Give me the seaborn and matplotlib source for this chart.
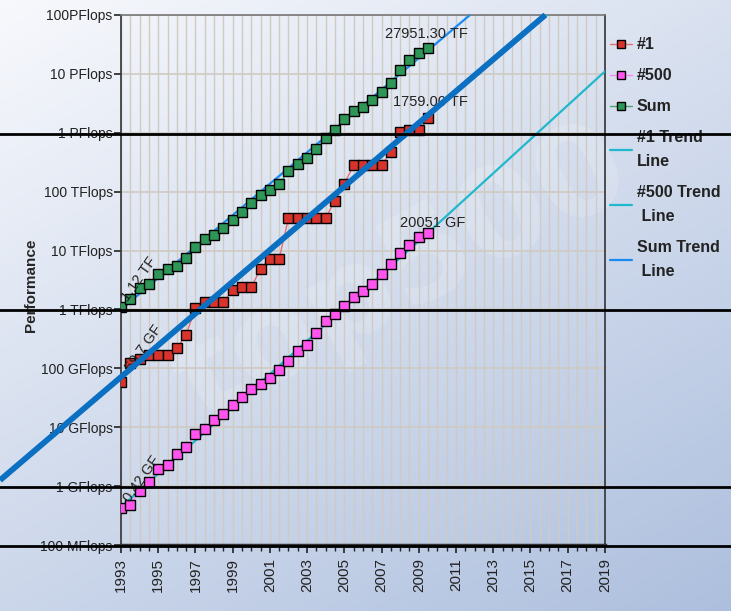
"""
TOP500 performance development, 1993-2009, with trend lines to 2019.
"""
import matplotlib
matplotlib.use("Agg")
import matplotlib.pyplot as plt
import numpy as np
import pandas as pd
import seaborn as sns
from matplotlib.ticker import FixedLocator, MultipleLocator

# values in GFlops, one per list (June / November), 1993 .. 2009
rank1 = [59.7, 124, 143.4, 170, 170, 170, 220.4, 368.2, 1068, 1338, 1338, 1338,
         2121, 2379, 2379, 4938, 7226, 7226, 35860, 35860, 35860, 35860, 35860,
         70720, 136800, 280600, 280600, 280600, 280600, 478200, 1026000,
         1105000, 1105000, 1759000]
rank500 = [0.42, 0.47, 0.84, 1.17, 1.96, 2.3, 3.5, 4.6, 7.7, 9.5, 13.4, 17.1,
           24.2, 33.1, 43.8, 55.1, 67.8, 94.3, 134.3, 195.8, 245.1, 403.4, 624,
           850.6, 1166, 1646, 2026, 2737, 4005, 5929, 9000, 12640, 17090, 20051]
total = [1120, 1500, 2300, 2700, 4000, 4900, 5400, 7400, 11700, 15500, 18600,
         24300, 33500, 45000, 63600, 88800, 108600, 134300, 222300, 294000,
         375000, 528000, 813000, 1127000, 1690000, 2300000, 2790000, 3530000,
         4920000, 6970000, 11700000, 16950000, 22600000, 27951300]
years = [1993 + 0.5 * i for i in range(len(rank1))]

# trend line end points (year, GFlops)
trend1_years = [1993, 2015.9]
trend1_vals = [70, 1e8]
trend500_years = [2009.5, 2019]
trend500_vals = [20051, 1.1e7]
trendsum_years = [1993, 2011.75]
trendsum_vals = [1000, 1e8]
# thick highlight drawn over the #1 trend, running off the left edge
thick_years = [1986.5, 2015.8]
thick_vals = [1.26, 1e8]
# horizontal marker lines across the picture (GFlops)
hlines = [1e6 * 0.95, 1e3 * 0.98, 0.98, 0.098]

ytick_vals = [1e-1, 1, 10, 100, 1e3, 1e4, 1e5, 1e6, 1e7, 1e8]
ytick_labels = ["100 MFlops", "1 GFlops", "10 GFlops", "100 GFlops", "1 TFlops",
                "10 TFlops", "100 TFlops", "1 PFlops", "10 PFlops", "100PFlops"]
xtick_years = list(range(1993, 2020, 2))

sns.set_theme(style="white")
plt.rcParams["font.family"] = ["Liberation Sans", "DejaVu Sans"]

fig = plt.figure(figsize=(7.31, 6.11), dpi=100)

# background gradient
bg = fig.add_axes([0, 0, 1, 1], zorder=-10)
gx, gy = np.meshgrid(np.linspace(0, 1, 200), np.linspace(0, 1, 200))
shade = np.clip(0.6 * gy + 0.4 * gx, 0, 1)
c0 = np.array([0.97, 0.975, 0.99])
c1 = np.array([0.68, 0.75, 0.87])
img = c0[None, None, :] * (1 - shade[..., None]) + c1[None, None, :] * shade[..., None]
bg.imshow(img, aspect="auto", extent=[0, 1, 0, 1], origin="upper")
bg.text(0.55, 0.55, "top500", fontsize=90, fontweight="bold", color="white",
        alpha=0.16, rotation=28, ha="center", va="center", family="DejaVu Sans")
bg.set_axis_off()

ax = fig.add_axes([0.1655, 0.108, 0.662, 0.8675])
ax.set_facecolor("none")
ax.set_yscale("log")
ax.set_xlim(1993, 2019)
ax.set_ylim(0.1, 1e8)

df = pd.DataFrame({"year": years, "#1": rank1, "#500": rank500, "Sum": total})

series = [("#1", "#d8342c", "#e87070"), ("#500", "#ff55ee", "#ff88f0"),
          ("Sum", "#2e9656", "#4aa870")]

# trend lines
sns.lineplot(x=trend1_years, y=trend1_vals, ax=ax, color="#20b8cc", lw=1.6,
             label="#1 Trend\nLine", zorder=3)
sns.lineplot(x=trend500_years, y=trend500_vals, ax=ax, color="#20b8cc", lw=1.6,
             label="#500 Trend\n Line", zorder=3)
sns.lineplot(x=trendsum_years, y=trendsum_vals, ax=ax, color="#1a8cf0", lw=1.6,
             label="Sum Trend\n Line", zorder=3)
sns.lineplot(x=[years[0], years[-1]], y=[rank500[0] * 1.05, rank500[-1]], ax=ax,
             color="#20b8cc", lw=1.6, zorder=3)

for name, fc, lc in series:
    sns.lineplot(data=df, x="year", y=name, ax=ax, color=lc, lw=1.0, marker="s",
                 markersize=7, markerfacecolor=fc, markeredgecolor="black",
                 markeredgewidth=1.0, label=name, zorder=4)

# annotations at the ends of the measured series
ann = dict(fontsize=10.5, color="#222222", zorder=5)
ax.text(2007.2, total[-1] * 1.45, "27951.30 TF", **ann)
ax.text(2007.6, rank1[-1] * 1.6, "1759.00 TF", **ann)
ax.text(2008.0, rank500[-1] * 1.25, "20051 GF", **ann)
ax.text(1992.9, total[0] * 1.25, "1.12 TF", rotation=55, **ann)
ax.text(1993.1, rank1[0] * 1.5, "59.7 GF", rotation=55, **ann)
ax.text(1993.0, rank500[0] * 1.3, "0.42 GF", rotation=55, **ann)

# overlays
ax.plot(thick_years, thick_vals, color="#0b6fc2", lw=4.2, clip_on=False,
        solid_capstyle="butt", zorder=6)
for v in hlines:
    ax.axhline(v, xmin=-0.26, xmax=1.27, color="black", lw=2.0, clip_on=False,
               zorder=7)

ax.yaxis.set_major_locator(FixedLocator(ytick_vals))
ax.yaxis.set_minor_locator(FixedLocator([]))
ax.set_yticks(ytick_vals, ytick_labels)
ax.set_xticks(xtick_years, [str(y) for y in xtick_years])
ax.xaxis.set_minor_locator(MultipleLocator(0.5))
ax.tick_params(axis="x", which="major", rotation=90, length=6, width=1.2,
               labelsize=11, direction="out", bottom=True, colors="#222222")
ax.tick_params(axis="x", which="minor", length=4, width=1.0, direction="out",
               bottom=True, color="#222222")
ax.tick_params(axis="y", which="major", length=5, width=1.2, labelsize=10,
               direction="out", left=True, pad=1, colors="#222222")

ax.grid(True, which="major", axis="y", color="#cfcac2", lw=1.2)
ax.grid(True, which="both", axis="x", color="#cfcac2", lw=1.0)
ax.set_axisbelow(True)

for side in ["left", "right", "bottom"]:
    ax.spines[side].set_color("#333333")
    ax.spines[side].set_linewidth(1.2)
ax.spines["top"].set_color("#777777")
ax.spines["top"].set_linewidth(1.2)
ax.spines["bottom"].set_linewidth(2.5)

ax.set_xlabel("")
ax.set_ylabel("Performance", fontsize=11, fontweight="bold")
ax.yaxis.set_label_coords(-0.172, 0.49)

handles, labels = ax.get_legend_handles_labels()
order = ["#1", "#500", "Sum", "#1 Trend\nLine", "#500 Trend\n Line", "Sum Trend\n Line"]
hmap = dict(zip(labels, handles))
leg = ax.legend([hmap[k] for k in order], order, loc="upper left",
                bbox_to_anchor=(0.98, 0.985), frameon=False, fontsize=11.5,
                handlelength=1.4, handletextpad=0.3, labelspacing=1.0,
                markerscale=0.9)
for t in leg.get_texts():
    t.set_fontweight("bold")
    t.set_linespacing(1.75)
    t.set_color("#222222")

fig.savefig("out.png", dpi=100)
